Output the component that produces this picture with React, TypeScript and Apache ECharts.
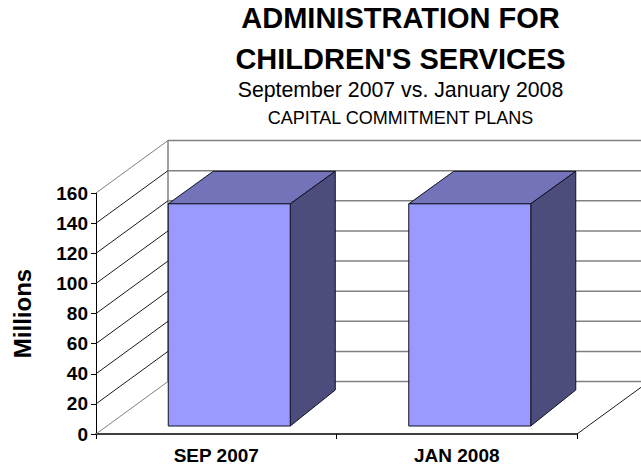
import React, { useEffect, useRef } from "react";
import * as echarts from "echarts";

const categories = ["SEP 2007", "JAN 2008"];
const planValues = [147.5, 147.5];
const tickValues = [0, 20, 40, 60, 80, 100, 120, 140, 160];

const WALL_DX = 72;
const WALL_DY = -52.5;
const BAR_DX = 13;
const BAR_DY = -8;
const BAR_WIDTH = 122;
const SIDE_DX = 45;
const SIDE_DY_TOP = -32.5;
const SIDE_DY_BOTTOM = -36;
const FONT = "'Liberation Sans', Arial, sans-serif";
const CX = 395.5;

function wallItem(params: any, api: any) {
  const v = api.value(0);
  const c = params.coordSys;
  const y = api.coord([0, v])[1];
  const x0 = c.x;
  const x1 = c.x + c.width;
  const edge = v === 0 || v === 160;
  const children: any[] = [
    {
      type: "line",
      shape: { x1: x0, y1: y, x2: x0 + WALL_DX, y2: y + WALL_DY },
      style: { stroke: edge ? "#808080" : "#1a1a1a", lineWidth: 1 },
    },
    {
      type: "line",
      shape: { x1: x0 + WALL_DX, y1: y + WALL_DY, x2: x1 + WALL_DX, y2: y + WALL_DY },
      style: { stroke: "#808080", lineWidth: 1.5 },
    },
  ];
  if (v === 0) {
    const top = api.coord([0, 160])[1];
    children.push(
      {
        type: "line",
        shape: { x1: x0 + WALL_DX, y1: y + WALL_DY, x2: x0 + WALL_DX, y2: top + WALL_DY },
        style: { stroke: "#808080", lineWidth: 1.5 },
      },
      {
        type: "line",
        shape: { x1: x1, y1: y, x2: x1 + WALL_DX, y2: y + WALL_DY },
        style: { stroke: "#1a1a1a", lineWidth: 1 },
      },
    );
  }
  return { type: "group", children };
}

function barItem(_params: any, api: any) {
  const idx = api.value(0);
  const top = api.coord([idx, api.value(1)]);
  const base = api.coord([idx, 0]);
  const l = top[0] - BAR_WIDTH / 2 + BAR_DX;
  const r = l + BAR_WIDTH;
  const t = top[1] + BAR_DY;
  const b = base[1] + BAR_DY;
  const stroke = { stroke: "#111122", lineWidth: 1, lineJoin: "round" };
  return {
    type: "group",
    children: [
      {
        type: "polygon",
        shape: { points: [[l, t], [l + SIDE_DX, t + SIDE_DY_TOP], [r + SIDE_DX, t + SIDE_DY_TOP], [r, t]] },
        style: { fill: "#7373BA", ...stroke },
      },
      {
        type: "polygon",
        shape: { points: [[r, t], [r + SIDE_DX, t + SIDE_DY_TOP], [r + SIDE_DX, b + SIDE_DY_BOTTOM], [r, b]] },
        style: { fill: "#4D4D7D", ...stroke },
      },
      {
        type: "rect",
        shape: { x: l, y: t, width: BAR_WIDTH, height: b - t },
        style: { fill: "#9999FF", ...stroke },
      },
    ],
  };
}

export default function App() {
  const ref = useRef<HTMLDivElement>(null);
  useEffect(() => {
    const chart = echarts.init(ref.current!, undefined, { renderer: "svg" });
    chart.setOption({
      animation: false,
      backgroundColor: "#ffffff",
      textStyle: { fontFamily: FONT },
      title: [
        { text: "ADMINISTRATION FOR", left: CX, top: -2, textAlign: "center", textStyle: { fontFamily: FONT, fontSize: 29, fontWeight: "bold", color: "#000" } },
        { text: "CHILDREN'S SERVICES", left: CX, top: 39, textAlign: "center", textStyle: { fontFamily: FONT, fontSize: 29, fontWeight: "bold", color: "#000" } },
        { text: "September 2007 vs. January 2008", left: CX, top: 74, textAlign: "center", textStyle: { fontFamily: FONT, fontSize: 21.3, fontWeight: "normal", color: "#000" } },
        { text: "CAPITAL COMMITMENT PLANS", left: CX, top: 103.5, textAlign: "center", textStyle: { fontFamily: FONT, fontSize: 18, fontWeight: "normal", color: "#000" } },
      ],
      grid: { left: 96, top: 193, width: 481, height: 241, containLabel: false },
      xAxis: {
        type: "category",
        data: categories,
        axisLine: { show: true, lineStyle: { color: "#000", width: 1.5 } },
        axisTick: { show: true, alignWithLabel: false, length: 5, lineStyle: { color: "#000" } },
        axisLabel: { color: "#000", fontSize: 19, fontWeight: "bold", margin: 12, fontFamily: FONT },
      },
      yAxis: {
        type: "value",
        min: 0,
        max: 160,
        interval: 20,
        name: "Millions",
        nameLocation: "middle",
        nameGap: 62,
        nameTextStyle: { color: "#000", fontSize: 24, fontWeight: "bold", fontFamily: FONT },
        axisLine: { show: true, lineStyle: { color: "#000", width: 1 } },
        axisTick: { show: true, length: 5, lineStyle: { color: "#000" } },
        axisLabel: { color: "#000", fontSize: 19, fontWeight: "bold", margin: 8, fontFamily: FONT },
        splitLine: { show: false },
      },
      series: [
        {
          type: "custom",
          name: "walls",
          coordinateSystem: "cartesian2d",
          data: tickValues.map((v) => [v]),
          encode: { y: 0 },
          renderItem: wallItem,
          silent: true,
          z: 1,
        },
        {
          type: "custom",
          name: "Capital commitment plans",
          coordinateSystem: "cartesian2d",
          data: planValues.map((v, i) => [i, v]),
          encode: { x: 0, y: 1 },
          renderItem: barItem,
          z: 3,
        },
      ],
    });
    return () => chart.dispose();
  }, []);
  return <div ref={ref} style={{ position: "fixed", left: 0, top: 0, width: 641, height: 468 }} />;
}
